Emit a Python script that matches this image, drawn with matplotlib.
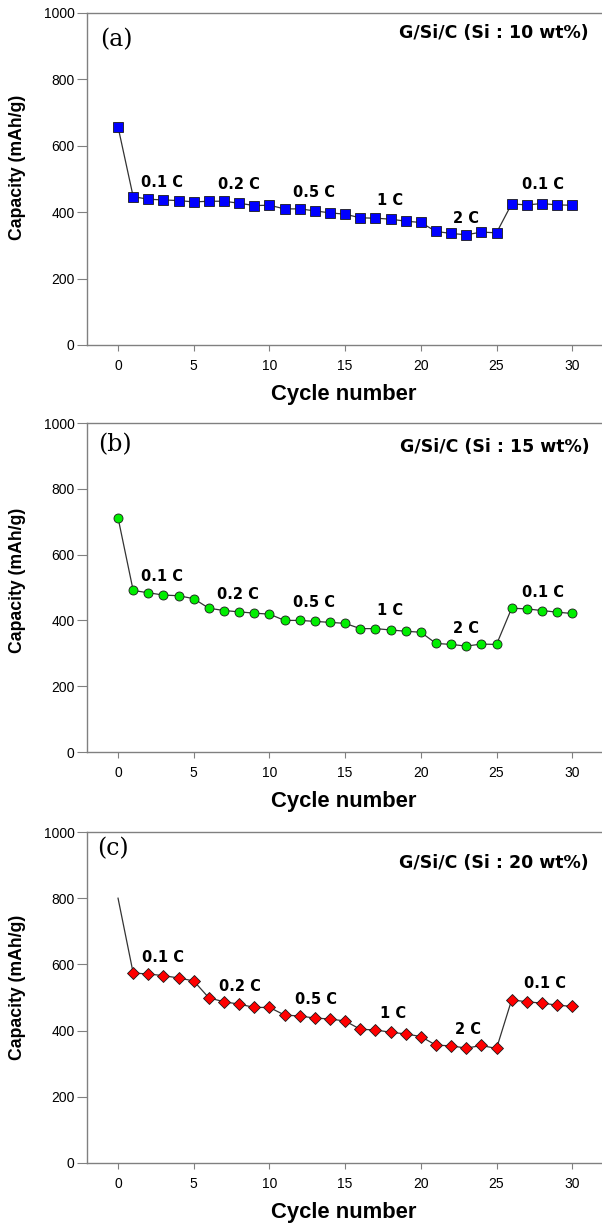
import matplotlib.pyplot as plt

cycles = list(range(0, 31))

cap_10 = [657, 447, 439, 437, 435, 431, 433, 433, 427, 420, 421,
          410, 410, 404, 398, 394, 383, 382, 379, 373, 369,
          342, 336, 332, 340, 338, 425, 422, 426, 422, 421]
cap_15 = [712, 491, 484, 477, 475, 466, 437, 430, 426, 422, 419,
          400, 400, 397, 394, 391, 375, 375, 371, 367, 364,
          330, 327, 322, 328, 327, 437, 435, 430, 425, 421]
cap_20 = [800, 574, 571, 566, 559, 550, 499, 487, 480, 470, 470,
          447, 444, 438, 435, 429, 404, 402, 395, 390, 382,
          356, 354, 347, 355, 346, 493, 487, 483, 477, 473]

rate_names = ['0.1 C', '0.2 C', '0.5 C', '1 C', '2 C', '0.1 C']
rate_x_a = [2.93, 7.97, 12.93, 18.0, 23.0, 28.06]
rate_y_a = [490, 482, 459, 434, 382, 482]
rate_x_b = [2.93, 7.93, 12.93, 18.0, 23.0, 28.06]
rate_y_b = [533, 479, 455, 429, 376, 484]
rate_x_c = [3.0, 8.03, 13.1, 18.17, 23.14, 28.2]
rate_y_c = [620, 533, 493, 452, 404, 543]

panels = ['(a)', '(b)', '(c)']
titles = ['G/Si/C (Si : 10 wt%)', 'G/Si/C (Si : 15 wt%)', 'G/Si/C (Si : 20 wt%)']

W, H = 602, 1227
fig = plt.figure(figsize=(W / 100, H / 100), dpi=100)

# pixel boxes: left, right, top, bottom
boxes = [(87, 601, 13, 345), (87, 601, 423, 752), (87, 601, 832, 1163)]
series = [cap_10, cap_15, cap_20]
markers = [('s', '#0000ff', 6.5), ('o', '#00ee00', 6.5), ('D', '#ff0000', 5.8)]
rx = [rate_x_a, rate_x_b, rate_x_c]
ry = [rate_y_a, rate_y_b, rate_y_c]
panel_pos = [(0.025, 0.919), (0.022, 0.933), (0.019, 0.95)]
title_pos = [(0.975, 0.94), (0.978, 0.928), (0.975, 0.905)]
ylab_pos = [0.535, 0.523, 0.53]

gray = '#808080'
for i in range(3):
    l, r, t, b = boxes[i]
    ax = fig.add_axes([l / W, 1 - b / H, (r - l) / W, (b - t) / H])
    m, c, s = markers[i]
    every = slice(1, None) if i == 2 else None
    ax.plot(cycles, series[i], color='#333333', lw=0.9, marker=m, ms=s,
            mfc=c, mec='#1a1a1a', mew=0.6, markevery=every)
    ax.set_xlim(-2.05, 31.9)
    ax.set_ylim(0, 1000)
    ax.set_xticks([0, 5, 10, 15, 20, 25, 30])
    ax.set_yticks([0, 200, 400, 600, 800, 1000])
    ax.spines['right'].set_visible(False)
    for sp in ['left', 'bottom', 'top']:
        ax.spines[sp].set_color(gray)
        ax.spines[sp].set_linewidth(1.0)
    ax.tick_params(axis='y', direction='out', length=7, color=gray,
                   labelsize=10, pad=2)
    ax.tick_params(axis='x', direction='out', length=4, color=gray,
                   labelsize=10, pad=6)
    for lab in ax.get_xticklabels() + ax.get_yticklabels():
        lab.set_family('Liberation Sans')
    ax.set_xlabel('Cycle number', family='Liberation Sans', weight='bold',
                  fontsize=15.8, labelpad=8)
    ax.set_ylabel('Capacity (mAh/g)', family='Liberation Sans', weight='bold',
                  fontsize=12.7)
    ax.yaxis.set_label_coords(-0.119, ylab_pos[i])
    for name, x, y in zip(rate_names, rx[i], ry[i]):
        ax.text(x, y, name, ha='center', va='center', fontsize=10.5,
                weight='bold', family='DejaVu Sans')
    ax.text(panel_pos[i][0], panel_pos[i][1], panels[i], transform=ax.transAxes,
            ha='left', va='center', fontsize=17, family='DejaVu Serif')
    ax.text(title_pos[i][0], title_pos[i][1], titles[i], transform=ax.transAxes,
            ha='right', va='center', fontsize=12.5, weight='bold',
            family='DejaVu Sans')

fig.savefig('out.png', dpi=100)
